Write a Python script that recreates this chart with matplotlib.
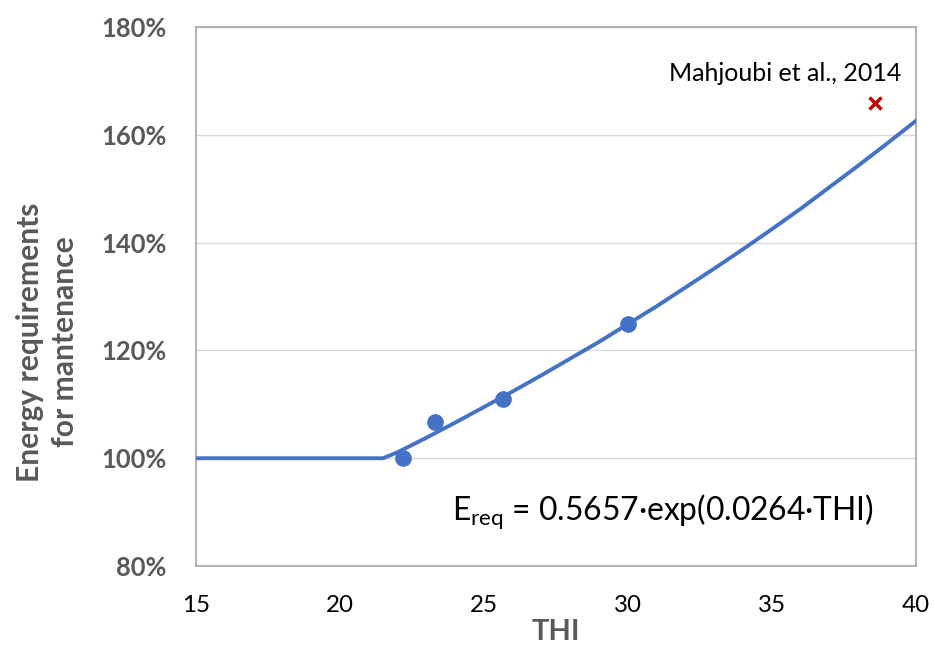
import matplotlib
matplotlib.use("Agg")
import matplotlib.pyplot as plt
from matplotlib.ticker import PercentFormatter

# fitted curve, values
thi_curve = [15, 21.5, 22, 23, 24, 25, 26, 27, 28, 29, 30, 31, 32, 33, 34, 35, 36, 37, 38, 39, 40]
ereq_curve = [1.000, 1.000, 1.011, 1.038, 1.066, 1.095, 1.124, 1.154, 1.185, 1.216, 1.249,
              1.282, 1.317, 1.352, 1.388, 1.425, 1.463, 1.503, 1.543, 1.584, 1.626]

# observed points
thi_obs = [22.18, 23.3, 25.65, 30.0]
ereq_obs = [1.000, 1.068, 1.110, 1.249]

# literature point
thi_lit = [38.58]
ereq_lit = [1.659]

blue = "#4472C4"
grey = "#595959"

plt.rcParams['font.family'] = ['Lato', 'DejaVu Sans']

fig = plt.figure(figsize=(9.35, 6.48), dpi=100)
ax = fig.add_axes([0.2096, 0.1265, 0.770, 0.8318])

ax.plot(thi_curve, ereq_curve, color=blue, lw=2.8, zorder=3)
ax.plot(thi_obs, ereq_obs, 'o', color=blue, ms=11, zorder=4)
ax.plot(thi_lit, ereq_lit, 'x', color='#C00000', ms=9, mew=2.5, zorder=4)

ax.set_xlim(15, 40)
ax.set_ylim(0.8, 1.8)
ax.set_xticks([15, 20, 25, 30, 35, 40])
ax.set_yticks([0.8, 1.0, 1.2, 1.4, 1.6, 1.8])
ax.yaxis.set_major_formatter(PercentFormatter(1.0, decimals=0))
ax.grid(axis='y', color='#D9D9D9', lw=1)
ax.set_axisbelow(True)
for s in ax.spines.values():
    s.set_color('#A6A6A6')
    s.set_linewidth(1.2)
ax.tick_params(axis='y', length=0, pad=21)
ax.tick_params(axis='x', length=0, pad=21)
for t in ax.get_yticklabels():
    t.set_fontsize(18.4)
    t.set_fontweight('bold')
    t.set_color(grey)
for t in ax.get_xticklabels():
    t.set_fontsize(17.4)
    t.set_color('black')

fig.text(556 / 935, 1 - 632 / 648, "THI", fontsize=21, fontweight='bold',
         color=grey, ha='center', va='center')
fig.text(47.5 / 935, 1 - 342 / 648, "Energy requirements\nfor mantenance", fontsize=21.6,
         fontweight='bold', color=grey, ha='center', va='center', rotation=90,
         linespacing=1.3, multialignment='center')

ax.text(23.89, 0.884, r"E$_{\mathregular{req}}$ = 0.5657·exp(0.0264·THI)",
        fontsize=22.9, va='baseline', ha='left')
ax.text(39.51, 1.714, "Mahjoubi et al., 2014", fontsize=18, ha='right', va='center')

fig.savefig("out.png", dpi=100)
